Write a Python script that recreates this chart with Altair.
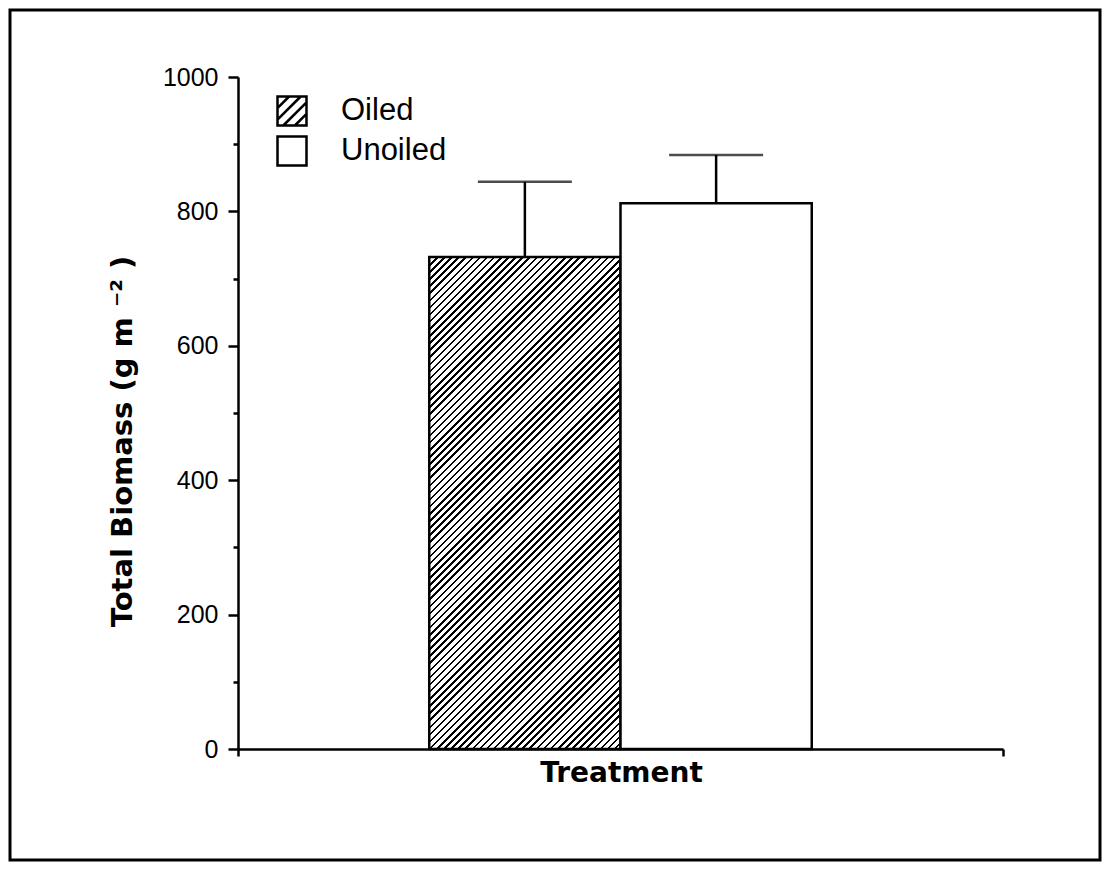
import math
import altair as alt
import pandas as pd

# ---------------- data ----------------
categories = ["Oiled", "Unoiled"]
means = [732, 812]
errors = [112, 72]
y_major = [0, 200, 400, 600, 800, 1000]
y_minor = [100, 300, 500, 700, 900]
x_domain = [0, 4]

# ---------------- layout / style ----------------
VIEW_W, VIEW_H = 1090, 850          # the framed area
X0, X1 = 228, 993                   # x-axis span inside the frame
Y0, Y1 = 739, 67                    # pixel rows of 0 and 1000 inside the frame
LABEL_FONT = "Liberation Sans"
TITLE_FONT = "DejaVu Sans"
LW = 2.5

df = pd.DataFrame({"treatment": categories, "mean": means, "err": errors})
df["idx"] = list(range(len(categories)))

# --- hatch fill for the Oiled bar as a hard-stop linear gradient ---
px_x = (X1 - X0) / (x_domain[1] - x_domain[0])
px_y = (Y0 - Y1) / 1000.0
W = px_x
H = means[0] * px_y
theta = math.radians(45)
s, c = math.sin(theta), math.cos(theta)
a, b = s / H, c / W
k = (a + b) / (a * a + b * b)
gx, gy = k * a, k * b
period = 7.1 * s
n = int(round((W * s + H * c) / period))
frac = 0.36
stops = []
for i in range(n):
    o0, o1, o2 = i / n, (i + frac) / n, (i + 1) / n
    stops += [
        {"offset": o0, "color": "black"},
        {"offset": o1, "color": "black"},
        {"offset": o1, "color": "white"},
        {"offset": o2, "color": "white"},
    ]
hatch = {"gradient": "linear", "x1": 0, "y1": 0, "x2": gx, "y2": gy, "stops": stops}

# legend symbols (unit square paths)
square_path = "M-1,-1H1V1H-1Z"
hatch_path = (square_path +
              "M-1,-0.2L-0.2,-1M-1,0.6L0.6,-1M-0.6,1L1,-0.6M0.2,1L1,0.2")

xscale = alt.Scale(domain=x_domain, range=[X0, X1], nice=False, zero=False)
yscale = alt.Scale(domain=[0, 1000], range=[Y0, Y1], nice=False, zero=False)

base = alt.Chart(df).transform_calculate(
    xs="datum.idx + 1", xe="datum.idx + 2", xm="datum.idx + 1.5",
    top="datum.mean + datum.err",
)

xaxis = alt.Axis(
    values=x_domain, labels=False, tickSize=7, tickWidth=LW, domainWidth=LW,
    grid=False, offset=-(VIEW_H - Y0), title="Treatment",
    titleFont=TITLE_FONT, titleFontSize=28, titleFontWeight="bold",
    titleX=621 - 10, titleY=24, titleBaseline="middle", titleAlign="center",
)
yaxis = alt.Axis(
    values=sorted(y_major + y_minor), format="d",
    labelExpr="datum.value % 200 === 0 ? datum.label : ''",
    tickSize=alt.condition("datum.value % 200 === 0", alt.value(10), alt.value(5)),
    tickWidth=LW, domainWidth=LW, grid=False, offset=-X0,
    labelFont=LABEL_FONT, labelFontSize=25, labelPadding=10, labelFlush=False,
    labelOverlap=False,
    title="Total Biomass (g m  \u207b\u00b2 )",
    titleFont=TITLE_FONT, titleFontSize=29, titleFontWeight="bold",
    titleAngle=270, titleX=-116, titleY=441 - 10, titleBaseline="middle",
    titleAlign="center",
)

bars = base.mark_rect(stroke="black", strokeWidth=LW).encode(
    x=alt.X("xs:Q", scale=xscale, axis=xaxis),
    x2="xe:Q",
    y=alt.Y("mean:Q", scale=yscale, axis=yaxis),
    y2=alt.datum(0),
    fill=alt.condition("datum.treatment === 'Oiled'", alt.value(hatch), alt.value("white")),
)

rules = base.mark_rule(color="black", strokeWidth=LW).encode(
    x="xm:Q", y="mean:Q", y2="top:Q"
)

caps = base.mark_tick(orient="horizontal", size=94, thickness=LW, color="black").encode(
    x="xm:Q", y="top:Q"
)

# legend-only layer: no marks are drawn (all rows filtered), the legend comes from the scale
legend_layer = base.transform_filter("false").mark_point(
    filled=False, color="black", strokeWidth=LW, opacity=1
).encode(
    x="xm:Q",
    y="mean:Q",
    shape=alt.Shape(
        "treatment:N",
        scale=alt.Scale(domain=categories, range=[hatch_path, square_path]),
        legend=alt.Legend(
            title=None, orient="none", legendX=266, legendY=85, padding=0,
            symbolSize=841, symbolStrokeColor="black",
            symbolStrokeWidth=LW, symbolOpacity=1, labelFont=LABEL_FONT,
            labelFontSize=31, labelColor="black", labelOffset=33, rowPadding=0,
        ),
    ),
)

chart = alt.layer(bars, rules, caps, legend_layer).properties(
    width=VIEW_W, height=VIEW_H, padding=2, autosize="none", background="white",
).configure_view(
    stroke="black", strokeWidth=3,
).configure_axis(
    domainColor="black", tickColor="black", labelColor="black", titleColor="black",
)

chart.save("out.html", embed_options={"renderer": "svg", "actions": False})
